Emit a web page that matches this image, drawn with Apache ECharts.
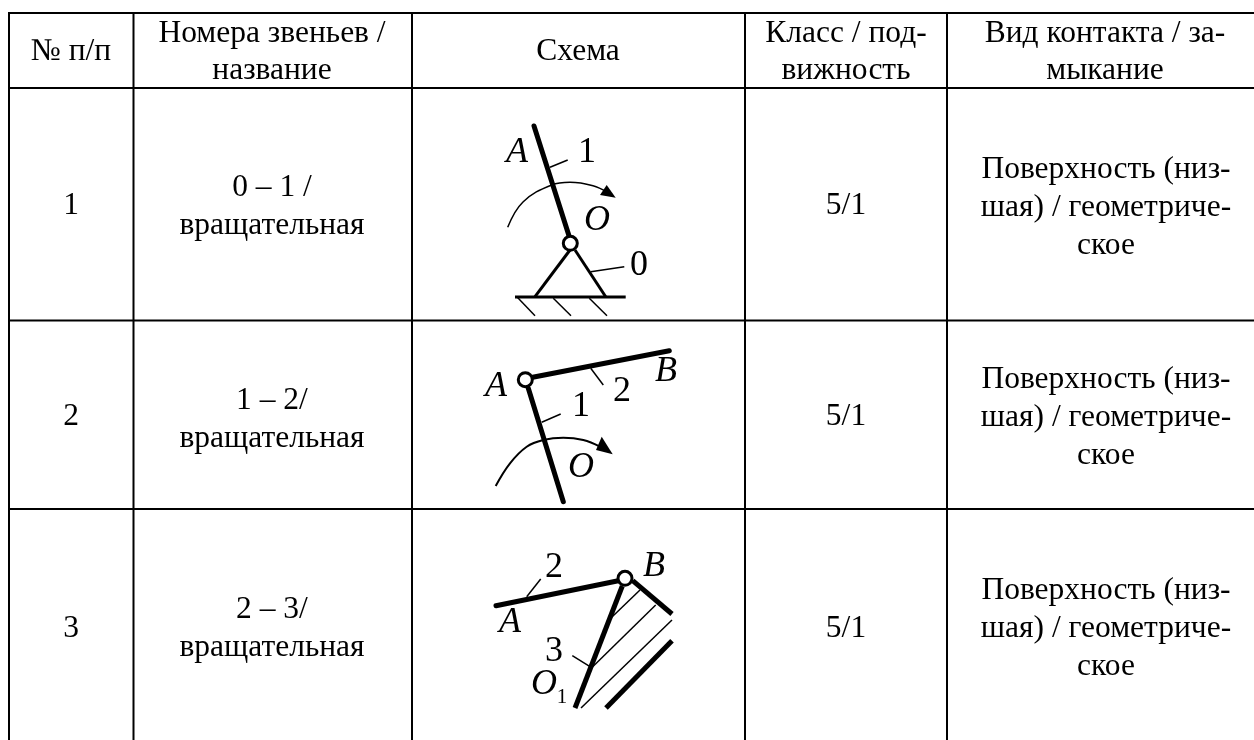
<!DOCTYPE html>
<html><head><meta charset="utf-8">
<style>html,body{margin:0;padding:0;background:#fff}#c{width:1254px;height:740px}</style>
<script src="https://cdn.jsdelivr.net/npm/echarts@6/dist/echarts.min.js"></script>
</head><body><div id="c"></div>
<script>
// Table rules
const ruleRows = [13, 88, 320.5, 509];
const ruleCols = [9, 133.5, 412, 745, 947];
const ruleBottom = 740, ruleRight = 1254;

// Table text: [x, y, text]
const headerCells = [
  [71, 52, '№ п/п'],
  [272, 52, 'Номера звеньев /\nназвание'],
  [578, 52, 'Схема'],
  [846, 52, 'Класс / под-\nвижность'],
  [1105, 52, 'Вид контакта / за-\nмыкание']
];
const contactText = 'Поверхность (низ-\nшая) / геометриче-\nское';
const bodyCells = [
  [71, 206, '1'], [272, 206.5, '0 – 1 /\nвращательная'], [846, 206, '5/1'], [1106, 207.5, contactText],
  [71, 417, '2'], [272, 420, '1 – 2/\nвращательная'], [846, 417, '5/1'], [1106, 418, contactText],
  [71, 629, '3'], [272, 629, '2 – 3/\nвращательная'], [846, 629, '5/1'], [1106, 629, contactText]
];

// Diagram thick links with rounded ends
const thickLinks = [
  [[534,126],[569.3,236.7]],
  [[532.7,377.3],[669.3,350.7]],
  [[528.3,388.3],[563.3,501.7]],
  [[496,605.7],[618.3,580.7]]
];
// Thick links cut off at the picture edge
const cutLinks = [
  [[622.3,586],[575,708]],
  [[632.7,580.7],[672,614]],
  [[672,640.7],[606,708]]
];
// Frame bars
const mediumLinks = [
  [[570,250],[535,296.7]],
  [[575,250],[605.7,296.7]],
  [[515,297],[625.7,297]]
];
// Thin leaders and hatching
const thinLinks = [
  [[550,167.3],[567.7,160]],
  [[590.7,271.7],[624.3,266.7]],
  [[517.3,297.3],[535,315.7]],
  [[553.3,298.3],[571,315.7]],
  [[589.3,298.3],[607,315.7]],
  [[590.7,368.3],[603.3,385]],
  [[541.7,422.3],[560.7,414]],
  [[540.7,579],[526.7,596.7]],
  [[572.3,655.7],[590,666.7]],
  [[640,590],[611.7,617.3]],
  [[655.7,605],[592.7,666.7]],
  [[672,620],[581,708]]
];
// Rotation arcs
const arcs = [
  [[507.7,227.3],[523,202],[551.7,185],[570,182.3],[593,185.7],[607,192]],
  [[495.7,486],[510,463.3],[526.7,446.7],[543.3,440],[563.3,437.7],[583.3,440],[600,446.7]]
];
const arrowHeads = [
  [[615.7,197.7],[600,195],[606.7,185]],
  [[612.7,454.3],[596,450],[601.7,436.7]]
];
const joints = [[570.3,243.3],[525.3,379.7],[625,578.3]];

// Diagram letters
const italicMarks = [
  [517,153,'A'],[597,221,'O'],
  [496,387,'A'],[666,372,'B'],[581,468,'O'],
  [654,567,'B'],[510,623,'A'],[544,685,'O']
];
const romanMarks = [
  [587,153,'1'],[639,266,'0'],
  [581,407,'1'],[622,392,'2'],
  [554,568,'2'],[554,652,'3']
];
const subMarks = [[562,697,'1']];

const serif = '"Liberation Serif","Times New Roman",serif';
const black = '#000';
const line = (pts, w, cap, extra) => Object.assign({
  type:'line', data:pts, showSymbol:false, symbol:'none', silent:true, animation:false,
  lineStyle:{color:black,width:w,cap:cap||'butt'}, z:2
}, extra||{});
const textSeries = (rows, size, style, lh) => ({
  type:'scatter', data:rows, symbolSize:0, silent:true, animation:false, z:5,
  encode:{x:0,y:1}, itemStyle:{opacity:1},
  label:{show:true, position:'inside', formatter:p=>p.data[2], color:black, opacity:1,
    fontFamily:serif, fontSize:size, fontStyle:style, lineHeight:lh, align:'center', verticalAlign:'middle'}
});

const series = [];
ruleRows.forEach(y=>series.push(line([[ruleCols[0]-1,y],[ruleRight,y]],2)));
ruleCols.forEach(x=>series.push(line([[x,ruleRows[0]],[x,ruleBottom]],2)));
thickLinks.forEach(p=>series.push(line(p,5,'round')));
cutLinks.forEach(p=>series.push(line(p,5)));
mediumLinks.forEach(p=>series.push(line(p,3)));
thinLinks.forEach(p=>series.push(line(p,1.5)));
arcs.forEach((p,i)=>series.push(line(p,i?2:1.5,'butt',{smooth:0.4})));
series.push({
  type:'custom', silent:true, animation:false, z:3,
  coordinateSystem:'cartesian2d',
  data:arrowHeads.map(a=>a.flat()),
  encode:{x:[0,2,4],y:[1,3,5]},
  renderItem:(params,api)=>({type:'polygon',shape:{points:[0,2,4].map(i=>api.coord([api.value(i),api.value(i+1)]))},style:{fill:black}})
});
series.push({type:'scatter',data:joints,symbol:'circle',symbolSize:14,silent:true,animation:false,z:4,
  itemStyle:{color:'#fff',borderColor:black,borderWidth:3,opacity:1}});
series.push(textSeries(headerCells,31.5,'normal',37));
series.push(textSeries(bodyCells,31.5,'normal',38));
series.push(textSeries(italicMarks,36,'italic',36));
series.push(textSeries(romanMarks,36,'normal',36));
series.push(textSeries(subMarks,21,'normal',22));

const hidden = {show:false};
const chart = echarts.init(document.getElementById('c'),null,{renderer:'canvas'});
chart.setOption({
  animation:false, backgroundColor:'#fff',
  grid:{left:0,right:0,top:0,bottom:0,containLabel:false},
  xAxis:{type:'value',min:0,max:1254,axisLabel:hidden,axisLine:hidden,axisTick:hidden,splitLine:hidden},
  yAxis:{type:'value',min:0,max:740,inverse:true,axisLabel:hidden,axisLine:hidden,axisTick:hidden,splitLine:hidden},
  series
});
</script></body></html>
